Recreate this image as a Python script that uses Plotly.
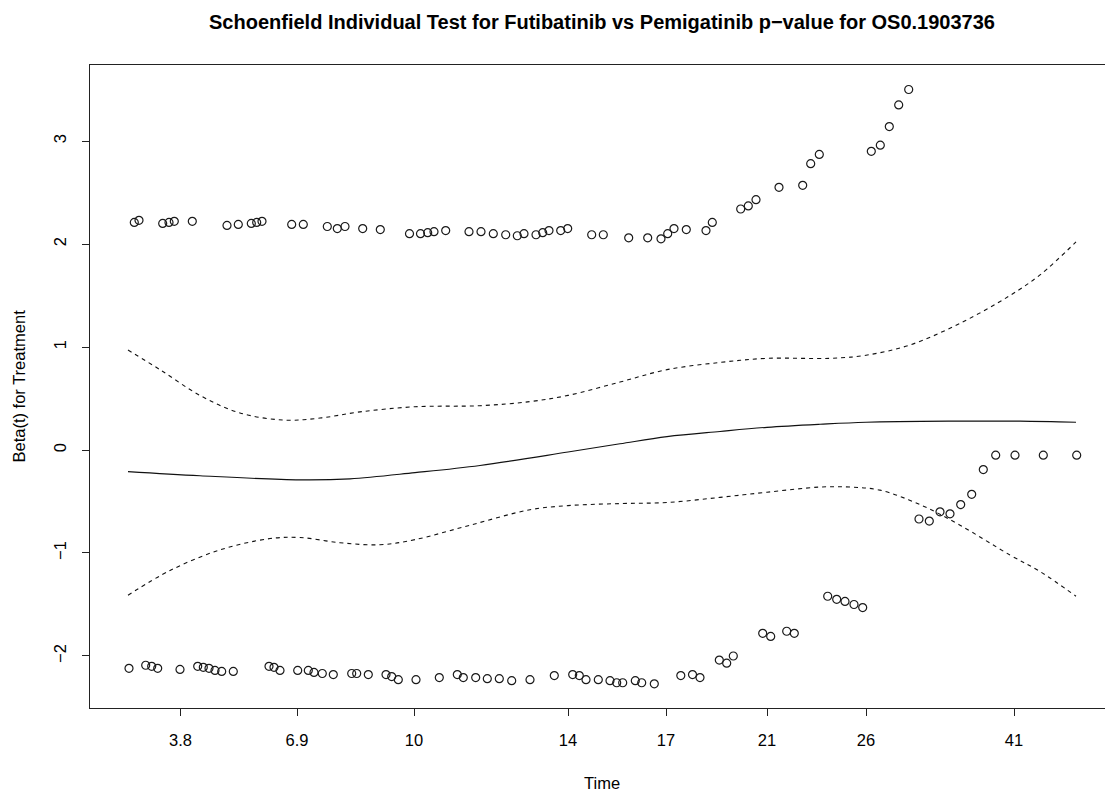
import plotly.graph_objects as go

# Transformed time scale (Kaplan-Meier transform), tick labels in original time units
tick_pos = [9.05, 20.7, 32.4, 47.8, 57.6, 67.7, 77.6, 92.4]
tick_lab = ["3.8", "6.9", "10", "14", "17", "21", "26", "41"]

# Scaled Schoenfield residuals, Futibatinib arm
t_futi = [4.43, 4.90, 7.27, 7.90, 8.43, 10.23, 13.70, 14.83, 16.13, 16.67, 17.20,
          20.17, 21.33, 23.73, 24.73, 25.50, 27.27, 29.03, 31.95, 33.05, 33.77,
          34.40, 35.57, 37.90, 39.10, 40.33, 41.57, 42.73, 43.40, 44.60, 45.27,
          45.90, 47.07, 47.77, 50.17, 51.33, 53.87, 55.77, 57.10, 57.77, 58.40,
          59.63, 61.60, 62.23, 65.07, 65.83, 66.60, 68.90, 71.27, 72.07, 72.93,
          78.13, 79.03, 79.93, 80.87, 81.87]
r_futi = [2.21, 2.23, 2.20, 2.21, 2.22, 2.22, 2.18, 2.19, 2.20, 2.21, 2.22,
          2.19, 2.19, 2.17, 2.15, 2.17, 2.15, 2.14, 2.10, 2.10, 2.11,
          2.12, 2.13, 2.12, 2.12, 2.10, 2.09, 2.08, 2.10, 2.09, 2.11,
          2.13, 2.13, 2.15, 2.09, 2.09, 2.06, 2.06, 2.05, 2.10, 2.15,
          2.14, 2.13, 2.21, 2.34, 2.37, 2.43, 2.55, 2.57, 2.78, 2.87,
          2.90, 2.96, 3.14, 3.35, 3.50]

# Scaled Schoenfield residuals, Pemigatinib arm
t_pemi = [3.90, 5.57, 6.17, 6.77, 9.00, 10.77, 11.33, 11.90, 12.50, 13.17, 14.33,
          17.90, 18.40, 19.00, 20.77, 21.83, 22.40, 23.23, 24.33, 26.17, 26.67,
          27.83, 29.60, 30.17, 30.83, 32.60, 34.93, 36.73, 37.33, 38.57, 39.73,
          40.93, 42.17, 44.00, 46.43, 48.27, 48.93, 49.60, 50.83, 52.00, 52.67,
          53.27, 54.53, 55.17, 56.43, 59.08, 60.25, 61.00, 62.93, 63.67, 64.33,
          67.27, 68.07, 69.67, 70.43, 73.77, 74.67, 75.50, 76.40, 77.27, 82.90,
          83.93, 85.00, 86.00, 87.07, 88.17, 89.33, 90.57, 92.50, 95.33, 98.67]
r_pemi = [-2.12, -2.09, -2.10, -2.12, -2.13, -2.10, -2.11, -2.12, -2.14, -2.15, -2.15,
          -2.10, -2.11, -2.14, -2.14, -2.14, -2.16, -2.17, -2.18, -2.17, -2.17,
          -2.18, -2.18, -2.20, -2.23, -2.23, -2.21, -2.18, -2.21, -2.21, -2.22,
          -2.22, -2.24, -2.23, -2.19, -2.18, -2.19, -2.23, -2.23, -2.24, -2.26,
          -2.26, -2.24, -2.26, -2.27, -2.19, -2.18, -2.21, -2.04, -2.07, -2.00,
          -1.78, -1.81, -1.76, -1.78, -1.42, -1.45, -1.47, -1.50, -1.53, -0.67,
          -0.69, -0.60, -0.62, -0.53, -0.43, -0.19, -0.05, -0.05, -0.05, -0.05]

# Smoothed beta(t) and its confidence band
t_fit = [3.8, 11.0, 21.0, 26.0, 32.5, 39.0, 47.8, 53.0, 57.7, 63.0, 67.7, 73.0,
         77.6, 86.0, 93.0, 98.6]
b_fit = [-0.21, -0.25, -0.29, -0.28, -0.22, -0.15, -0.02, 0.06, 0.13, 0.18, 0.22,
         0.25, 0.27, 0.28, 0.28, 0.27]

t_hi = [3.8, 7.0, 11.0, 15.0, 19.5, 23.0, 27.0, 32.5, 39.0, 44.0, 47.8, 53.0,
        57.7, 63.0, 67.7, 74.0, 77.6, 82.0, 87.0, 92.0, 95.0, 98.6]
b_hi = [0.97, 0.78, 0.53, 0.36, 0.29, 0.31, 0.37, 0.42, 0.43, 0.47, 0.53, 0.66,
        0.78, 0.85, 0.89, 0.89, 0.92, 1.02, 1.23, 1.50, 1.70, 2.02]

t_lo = [3.8, 8.0, 13.0, 18.0, 21.0, 25.0, 29.0, 32.5, 38.0, 44.0, 47.8, 53.0,
        57.7, 63.0, 67.7, 73.0, 76.0, 79.0, 83.0, 87.0, 92.0, 95.0, 98.6]
b_lo = [-1.41, -1.17, -0.97, -0.86, -0.85, -0.90, -0.92, -0.87, -0.73, -0.58, -0.54,
        -0.52, -0.51, -0.46, -0.41, -0.36, -0.36, -0.39, -0.53, -0.73, -1.02, -1.18,
        -1.42]

FONT = "Liberation Sans, Arial, Helvetica, sans-serif"
LABEL_SIZE = 16.5

fig = go.Figure()

marker = dict(symbol="circle-open", size=8, color="#1a1a1a", line=dict(width=1.2))
fig.add_trace(go.Scatter(x=t_futi, y=r_futi, mode="markers", marker=marker))
fig.add_trace(go.Scatter(x=t_pemi, y=r_pemi, mode="markers", marker=marker))

fig.add_trace(go.Scatter(x=t_fit, y=b_fit, mode="lines",
                         line=dict(color="#111111", width=1.1, shape="spline", smoothing=1.0)))
for tx, by in ((t_hi, b_hi), (t_lo, b_lo)):
    fig.add_trace(go.Scatter(x=tx, y=by, mode="lines",
                             line=dict(color="#111111", width=1.1, dash="4px,4px",
                                       shape="spline", smoothing=1.0)))

fig.update_layout(
    width=1105, height=792,
    margin=dict(l=90, r=0, t=65, b=84),
    paper_bgcolor="white", plot_bgcolor="white",
    showlegend=False,
    font=dict(family=FONT, color="black"),
    title=dict(
        text="<b>Schoenfield Individual Test for Futibatinib vs Pemigatinib p\u2212value for OS0.1903736</b>",
        x=602 / 1105, xref="container", xanchor="center",
        y=1 - 22 / 792, yref="container", yanchor="middle",
        font=dict(size=20, family=FONT, color="black"),
    ),
    xaxis=dict(
        range=[0, 101.5], showgrid=False, zeroline=False,
        showline=True, mirror=True, linecolor="#222222", linewidth=1,
        tickmode="array", tickvals=tick_pos, ticktext=tick_lab,
        ticks="outside", ticklen=7, tickcolor="#222222", tickwidth=1,
        tickfont=dict(size=LABEL_SIZE, family=FONT, color="black"),
        ticklabelstandoff=10,
    ),
    yaxis=dict(
        range=[-2.505, 3.738], showgrid=False, zeroline=False,
        showline=True, mirror=False, linecolor="#222222", linewidth=1,
        tickmode="array", tickvals=[-2, -1, 0, 1, 2, 3],
        ticktext=["\u22122", "\u22121", "0", "1", "2", "3"],
        ticks="outside", ticklen=7, tickcolor="#222222", tickwidth=1,
        tickangle=-90,
        tickfont=dict(size=LABEL_SIZE, family=FONT, color="black"),
        ticklabelstandoff=9,
    ),
    annotations=[
        dict(text="Time", xref="paper", yref="paper", x=(602 - 90) / 1015, y=0,
             yanchor="middle", xanchor="center", yshift=-75, showarrow=False,
             font=dict(size=LABEL_SIZE, family=FONT, color="black")),
        dict(text="Beta(t) for Treatment", xref="paper", yref="paper", x=0, y=0.5,
             xanchor="center", yanchor="middle", xshift=-72, textangle=-90,
             showarrow=False, font=dict(size=LABEL_SIZE, family=FONT, color="black")),
    ],
)

fig.write_html("out.html")
